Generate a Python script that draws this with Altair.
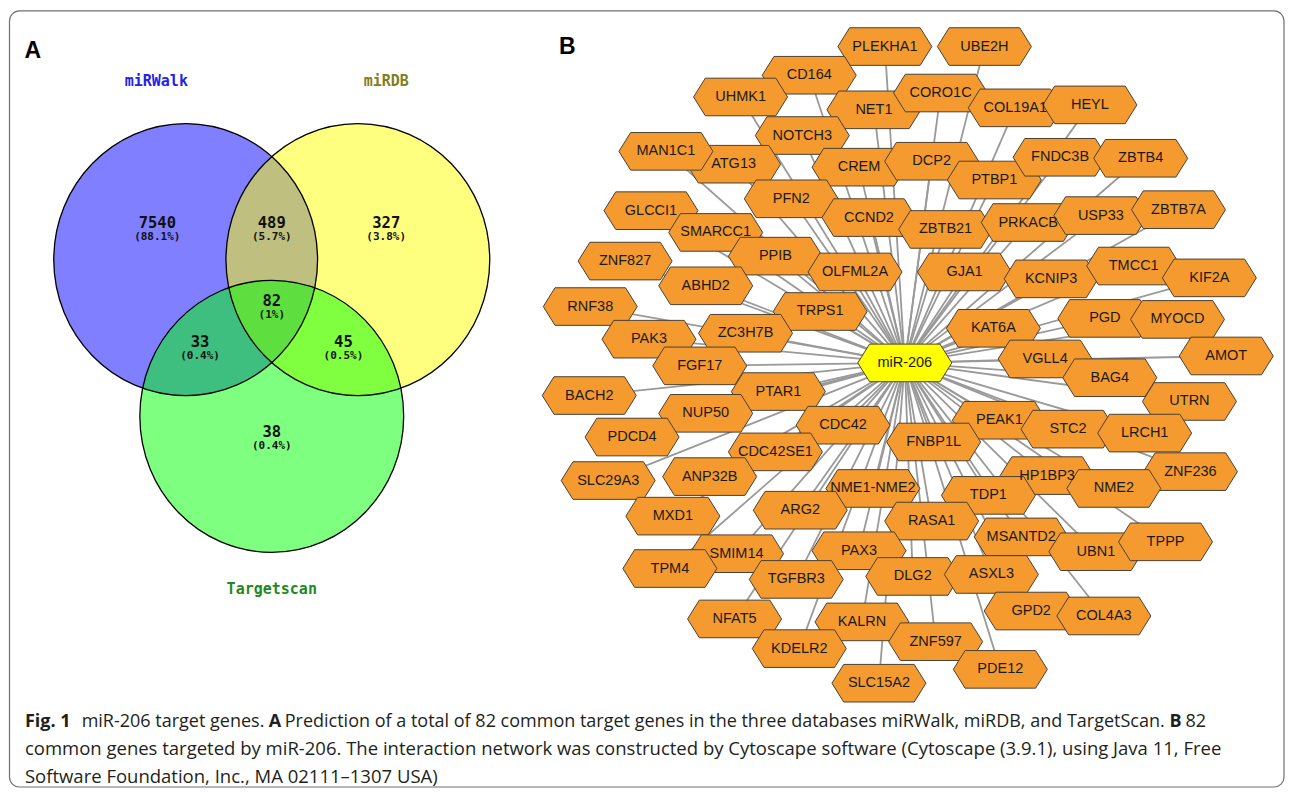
import altair as alt
import pandas as pd

# ---------------- Panel A: Venn diagram ----------------
venn_sets = ["miRWalk", "miRDB", "Targetscan"]
venn_cx = [186.5, 359.5, 273]
venn_cy = [262.5, 262.5, 421]
venn_fill = ["#0000ff", "#ffff00", "#00ff00"]
set_label_x = [157, 388, 273]
set_label_y = [82, 82, 596]
set_label_color = ["#2323e8", "#80801c", "#1f8a1f"]

region_counts = ["7540", "489", "327", "82", "33", "45", "38"]
region_pcts = ["(88.1%)", "(5.7%)", "(3.8%)", "(1%)", "(0.4%)", "(0.5%)", "(0.4%)"]
region_x = [158, 273, 388, 273, 201, 345, 273]
region_y = [226, 226, 226, 305, 347, 347, 438]

# ---------------- Panel B: network ----------------
hub_name = "miR-206"
hub_x = 909
hub_y = 367
genes = ["PLEKHA1", "UBE2H", "CD164", "UHMK1", "NET1", "CORO1C", "COL19A1", "HEYL",
         "NOTCH3", "ATG13", "MAN1C1", "CREM", "DCP2", "PTBP1", "FNDC3B", "ZBTB4",
         "PFN2", "GLCCI1", "SMARCC1", "CCND2", "ZBTB21", "PRKACB", "USP33", "ZBTB7A",
         "PPIB", "ZNF827", "ABHD2", "OLFML2A", "GJA1", "KCNIP3", "TMCC1", "KIF2A",
         "RNF38", "TRPS1", "KAT6A", "PGD", "MYOCD", "PAK3", "ZC3H7B", "FGF17",
         "VGLL4", "AMOT", "BAG4", "BACH2", "PTAR1", "UTRN", "NUP50", "PDCD4",
         "CDC42", "PEAK1", "STC2", "LRCH1", "FNBP1L", "CDC42SE1", "ZNF236", "SLC29A3",
         "ANP32B", "HP1BP3", "NME1-NME2", "NME2", "TDP1", "MXD1", "ARG2", "RASA1",
         "MSANTD2", "UBN1", "TPPP", "SMIM14", "PAX3", "TPM4", "TGFBR3", "DLG2",
         "ASXL3", "NFAT5", "GPD2", "COL4A3", "KALRN", "KDELR2", "ZNF597", "PDE12",
         "SLC15A2"]
gene_x = [889, 989, 813, 744, 878, 945, 1020, 1095,
          806, 737, 669, 863, 936, 999, 1065, 1146,
          795, 654, 719, 873, 950, 1033, 1106, 1184,
          779, 628, 709, 859, 969, 1056, 1139, 1215,
          593, 824, 998, 1110, 1183, 652, 749, 703,
          1050, 1232, 1115, 592, 782, 1195, 709, 635,
          847, 1004, 1073, 1150, 938, 779, 1196, 611,
          713, 1052, 877, 1119, 993, 676, 804, 936,
          1026, 1101, 1171, 740, 863, 673, 800, 917,
          996, 738, 1036, 1109, 866, 803, 940, 1005,
          883]
gene_y = [47, 47, 76, 98, 111, 94, 109, 106,
          137, 166, 153, 169, 163, 182, 159, 160,
          201, 213, 235, 220, 232, 225, 218, 212,
          259, 264, 289, 275, 275, 282, 269, 281,
          310, 315, 332, 322, 323, 343, 337, 370,
          363, 360, 382, 400, 396, 406, 418, 442,
          430, 425, 434, 438, 447, 457, 477, 486,
          482, 481, 494, 494, 501, 522, 516, 527,
          543, 558, 548, 560, 557, 575, 586, 583,
          581, 626, 618, 623, 629, 656, 649, 677,
          691]

# ---------------- caption ----------------
caption_text = ["Fig. 1", "miR-206 target genes.", "A",
                "Prediction of a total of 82 common target genes in the three databases miRWalk, miRDB, and TargetScan.",
                "B", "82",
                "common genes targeted by miR-206. The interaction network was constructed by Cytoscape software (Cytoscape (3.9.1), using Java 11, Free",
                "Software Foundation, Inc., MA 02111\u20131307 USA)"]
caption_x = [25, 82, 270, 286, 1175, 1191, 25, 25]
caption_y = [730, 730, 730, 730, 730, 730, 758, 786]
caption_bold = [True, False, True, False, True, False, False, False]
caption_size = [18, 18, 18, 18, 18, 18, 18.5, 18.5]

panel_letters = ["A", "B"]
panel_x = [33, 570]
panel_y = [51, 47]

frame_x = [9.5]
frame_x2 = [1290]
frame_y = [11]
frame_y2 = [796]

# ---------------- build ----------------
W, H = 1277, 780
xs = alt.Scale(domain=[8, 1291], nice=False, zero=False)
ys = alt.Scale(domain=[8, 797], nice=False, zero=False, reverse=True)


def X(f):
    return alt.X(f, type="quantitative", scale=xs, axis=None)


def Y(f):
    return alt.Y(f, type="quantitative", scale=ys, axis=None)


frame_df = pd.DataFrame({"x": frame_x, "x2": frame_x2, "y": frame_y, "y2": frame_y2})
frame = alt.Chart(frame_df).mark_rect(
    fill="white", fillOpacity=0, stroke="#707070", strokeWidth=1.2, cornerRadius=10
).encode(x=X("x"), x2="x2", y=Y("y"), y2="y2")

ELLIPSE = "M-0.97,0A0.97,1,0,1,1,0.97,0A0.97,1,0,1,1,-0.97,0Z"
venn_df = pd.DataFrame({"set": venn_sets, "x": venn_cx, "y": venn_cy, "fill": venn_fill,
                        "lx": set_label_x, "ly": set_label_y, "lc": set_label_color})
venn_fills = alt.Chart(venn_df).mark_point(
    shape=ELLIPSE, filled=True, fillOpacity=0.5, strokeWidth=0, size=73984
).encode(x=X("x"), y=Y("y"), color=alt.Color("fill:N", scale=None))
venn_lines = alt.Chart(venn_df).mark_point(
    shape=ELLIPSE, filled=False, color="black", strokeWidth=1.3, opacity=1, size=73984
).encode(x=X("x"), y=Y("y"))
set_labels = alt.Chart(venn_df).mark_text(
    font="DejaVu Sans Mono", fontSize=15, fontWeight="bold", align="center", baseline="middle"
).encode(x=X("lx"), y=Y("ly"), text="set:N", color=alt.Color("lc:N", scale=None))

region_df = pd.DataFrame({"c": region_counts, "p": region_pcts, "x": region_x, "y": region_y})
counts = alt.Chart(region_df).mark_text(
    font="DejaVu Sans Mono", fontSize=15.5, fontWeight="bold", color="#111",
    align="center", baseline="middle", dy=-1
).encode(x=X("x"), y=Y("y"), text="c:N")
pcts = alt.Chart(region_df).mark_text(
    font="DejaVu Sans Mono", fontSize=11, fontWeight="bold", color="#111",
    align="center", baseline="middle", dy=13
).encode(x=X("x"), y=Y("y"), text="p:N")

letters_df = pd.DataFrame({"t": panel_letters, "x": panel_x, "y": panel_y})
letters = alt.Chart(letters_df).mark_text(
    font="Liberation Sans", fontSize=23, fontWeight="bold", color="black",
    align="center", baseline="middle"
).encode(x=X("x"), y=Y("y"), text="t:N")

nodes_df = pd.DataFrame({"name": genes + [hub_name], "x": gene_x + [hub_x], "y": gene_y + [hub_y],
                         "kind": ["gene"] * len(genes) + ["hub"]})
nodes_df["hx"] = hub_x
nodes_df["hy"] = hub_y
edges = alt.Chart(nodes_df[nodes_df.kind == "gene"]).mark_rule(
    color="#999999", strokeWidth=1.8
).encode(x=X("x"), y=Y("y"), x2="hx", y2="hy")

HEX = "M-1,0L-0.75,-0.4L0.75,-0.4L1,0L0.75,0.4L-0.75,0.4Z"
nodes = alt.Chart(nodes_df).mark_point(
    shape=HEX, filled=True, opacity=1, stroke="#4a4036", strokeWidth=1, size=8836
).encode(
    x=X("x"), y=Y("y"),
    fill=alt.Fill("kind:N", scale=alt.Scale(domain=["gene", "hub"], range=["#F59A2E", "#FFFF00"]),
                  legend=None)
)
node_labels = alt.Chart(nodes_df).mark_text(
    font="Liberation Sans", fontSize=14.5, color="#1a1a1a",
    align="center", baseline="middle"
).encode(x=X("x"), y=Y("y"), text="name:N")

cap_df = pd.DataFrame({"t": caption_text, "x": caption_x, "y": caption_y,
                       "b": caption_bold, "s": caption_size})
cap_norm = alt.Chart(cap_df[~cap_df.b]).mark_text(
    font="Open Sans", color="#231f20", align="left", baseline="middle"
).encode(x=X("x"), y=Y("y"), text="t:N", size=alt.Size("s:Q", scale=None, legend=None))
cap_bold = alt.Chart(cap_df[cap_df.b]).mark_text(
    font="Open Sans", fontWeight="bold", color="#231f20", align="left", baseline="middle"
).encode(x=X("x"), y=Y("y"), text="t:N", size=alt.Size("s:Q", scale=None, legend=None))

chart = alt.layer(
    frame, venn_fills, venn_lines, set_labels, counts, pcts, letters,
    edges, nodes, node_labels, cap_norm, cap_bold
).properties(
    width=W, height=H, padding=0, autosize=alt.AutoSizeParams(type="none"),
    background="white"
).configure_view(stroke=None)

chart.save("out.html", embed_options={"renderer": "svg", "actions": False})
